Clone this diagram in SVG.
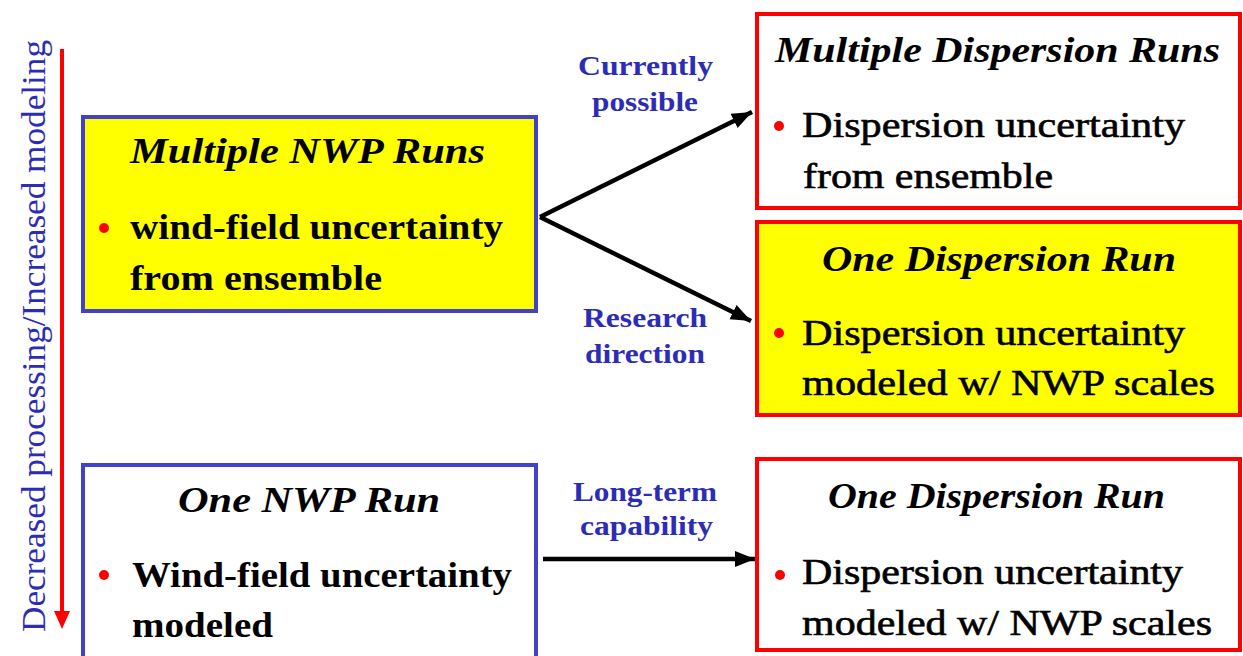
<svg xmlns="http://www.w3.org/2000/svg" width="1243" height="656" viewBox="0 0 1243 656">
<style>
.bg{fill:#ffffff}
.bluebox{stroke:#4141cc;stroke-width:4}
.redbox{stroke:#ff0000;stroke-width:4}
.yel{fill:#ffff00}
.wht{fill:#ffffff}
.title{font-family:'Liberation Serif','Times New Roman',serif;font-weight:bold;font-style:italic;font-size:36px;fill:#000}
.bodyb{font-family:'Liberation Serif','Times New Roman',serif;font-weight:bold;font-size:35px;fill:#000}
.body{font-family:'Liberation Serif','Times New Roman',serif;font-size:35px;fill:#000;stroke:#000;stroke-width:0.6}
.lbl{font-family:'Liberation Serif','Times New Roman',serif;font-weight:bold;font-size:27px;fill:#2c2cb4}
.side{font-family:'Liberation Serif','Times New Roman',serif;font-size:33px;fill:#2c2cb4}
.bul{fill:#ff0000}
.conn{stroke:#000;stroke-width:4.5;fill:none}
</style>
<defs>
<marker id="ah" markerUnits="userSpaceOnUse" markerWidth="22" markerHeight="18" refX="20" refY="8" orient="auto">
<path d="M0,0 L20,8 L0,16 Z" fill="#000"/>
</marker>
</defs>
<rect class="bg" x="0" y="0" width="1243" height="656"/>

<g id="side-axis">
<line x1="62" y1="49" x2="62" y2="614" stroke="#ff0000" stroke-width="4"/>
<polygon points="54,611 70,611 62,629" fill="#ff0000"/>
<text class="side" transform="translate(45,632) rotate(-90)" x="0" y="0" textLength="592" lengthAdjust="spacingAndGlyphs">Decreased processing/Increased modeling</text>
</g>

<g id="multiple-nwp">
<rect class="bluebox yel" x="83" y="117" width="453" height="194"/>
<text class="title" x="130" y="163" textLength="355" lengthAdjust="spacingAndGlyphs">Multiple NWP Runs</text>
<circle class="bul" cx="104" cy="228" r="5"/>
<text class="bodyb" x="130" y="239" textLength="373" lengthAdjust="spacingAndGlyphs">wind-field uncertainty</text>
<text class="bodyb" x="130" y="290" textLength="252" lengthAdjust="spacingAndGlyphs">from ensemble</text>
</g>

<g id="one-nwp">
<rect class="bluebox wht" x="83" y="465" width="453" height="200"/>
<text class="title" x="178" y="512" textLength="262" lengthAdjust="spacingAndGlyphs">One NWP Run</text>
<circle class="bul" cx="104" cy="575" r="5"/>
<text class="bodyb" x="132" y="587" textLength="380" lengthAdjust="spacingAndGlyphs">Wind-field uncertainty</text>
<text class="bodyb" x="132" y="637" textLength="141" lengthAdjust="spacingAndGlyphs">modeled</text>
</g>

<g id="multiple-dispersion">
<rect class="redbox wht" x="757" y="14" width="483" height="194"/>
<text class="title" x="775" y="62" textLength="445" lengthAdjust="spacingAndGlyphs">Multiple Dispersion Runs</text>
<circle class="bul" cx="779" cy="126" r="5"/>
<text class="body" x="802" y="137" textLength="383" lengthAdjust="spacingAndGlyphs">Dispersion uncertainty</text>
<text class="body" x="803" y="188" textLength="250" lengthAdjust="spacingAndGlyphs">from ensemble</text>
</g>

<g id="one-dispersion-research">
<rect class="redbox yel" x="757" y="222" width="483" height="193"/>
<text class="title" x="822" y="271" textLength="354" lengthAdjust="spacingAndGlyphs">One Dispersion Run</text>
<circle class="bul" cx="779" cy="333" r="5"/>
<text class="body" x="802" y="345" textLength="383" lengthAdjust="spacingAndGlyphs">Dispersion uncertainty</text>
<text class="body" x="802" y="395" textLength="413" lengthAdjust="spacingAndGlyphs">modeled w/ NWP scales</text>
</g>

<g id="one-dispersion-longterm">
<rect class="redbox wht" x="757" y="459" width="483" height="191"/>
<text class="title" x="828" y="508" textLength="337" lengthAdjust="spacingAndGlyphs">One Dispersion Run</text>
<circle class="bul" cx="780" cy="575" r="5"/>
<text class="body" x="802" y="584" textLength="381" lengthAdjust="spacingAndGlyphs">Dispersion uncertainty</text>
<text class="body" x="802" y="635" textLength="410" lengthAdjust="spacingAndGlyphs">modeled w/ NWP scales</text>
</g>

<g id="connectors">
<line class="conn" x1="540" y1="217" x2="752" y2="112" marker-end="url(#ah)"/>
<line class="conn" x1="540" y1="217" x2="751" y2="321" marker-end="url(#ah)"/>
<line class="conn" x1="543" y1="559" x2="755" y2="559" marker-end="url(#ah)"/>
<text class="lbl" x="578" y="75" textLength="135" lengthAdjust="spacingAndGlyphs">Currently</text>
<text class="lbl" x="592" y="111" textLength="106" lengthAdjust="spacingAndGlyphs">possible</text>
<text class="lbl" x="583" y="327" textLength="124" lengthAdjust="spacingAndGlyphs">Research</text>
<text class="lbl" x="585" y="363" textLength="120" lengthAdjust="spacingAndGlyphs">direction</text>
<text class="lbl" x="573" y="501" textLength="144" lengthAdjust="spacingAndGlyphs">Long-term</text>
<text class="lbl" x="580" y="535" textLength="133" lengthAdjust="spacingAndGlyphs">capability</text>
</g>
</svg>
